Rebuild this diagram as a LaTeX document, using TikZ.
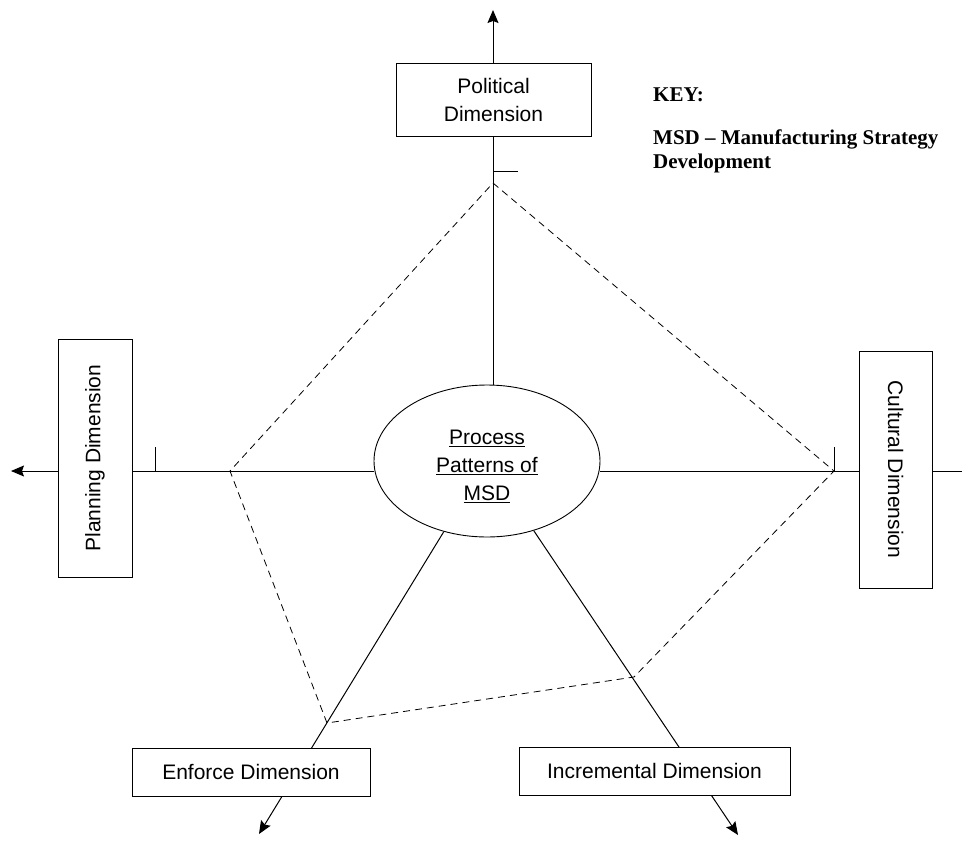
\documentclass[tikz,border=0pt]{standalone}
\usepackage{fontspec}
\setmainfont{Liberation Sans}
\newfontfamily\keyfont{Liberation Serif}
\usetikzlibrary{arrows.meta,shapes.geometric,backgrounds}

\begin{document}
\begin{tikzpicture}[x=1pt,y=-1pt,
  dimbox/.style={draw, fill=white, line width=0.8pt, inner sep=0pt,
    align=center, font=\fontsize{21}{28}\selectfont},
  axis/.style={line width=1pt},
  tip/.style={-{Stealth[length=13pt,width=11pt,inset=2pt]}},
  tick/.style={line width=0.8pt},
  frame/.style={dashed, dash pattern=on 7pt off 5pt, line width=0.8pt},
  keytext/.style={font=\keyfont\bfseries\fontsize{21}{24}\selectfont,
    anchor=west, align=left, inner sep=0pt}]

\useasboundingbox (0,0) rectangle (962,860);

% centre ellipse, its text set a little below the centre
\node[ellipse, draw, fill=white, line width=0.9pt, minimum width=226pt,
  minimum height=152pt, inner sep=0pt, font=\fontsize{21}{28}\selectfont]
  (ell) at (487,461)
  {\raisebox{-6pt}[\height][\depth]{\begin{tabular}{@{}c@{}}\underline{Process}\\
    \underline{Patterns of}\\\underline{MSD}\end{tabular}}};

% dimension boxes
\node[dimbox, minimum width=195pt, minimum height=73pt] (pol) at (493.5,99.5)
  {Political\\Dimension};
\node[dimbox, rotate=90, minimum width=238pt, minimum height=74pt] (plan) at (95,458)
  {Planning Dimension};
\node[dimbox, rotate=-90, minimum width=237pt, minimum height=73pt] (cult) at (895.5,469.5)
  {Cultural Dimension};
\node[dimbox, minimum width=238pt, minimum height=48pt] (enf) at (251,772)
  {Enforce Dimension};
\node[dimbox, minimum width=271pt, minimum height=48pt] (inc) at (654.5,771)
  {Incremental Dimension};

% key
\node[keytext] (keyhead) at (653,95) {KEY:};
\node[keytext] (keyitem) at (653,151) {MSD – Manufacturing Strategy\\Development};

% arrow ends and frame corners
\coordinate (tipT) at (493,10);
\coordinate (tipL) at (11,471);
\coordinate (endR) at (962,471);
\coordinate (tipE) at (259,834);
\coordinate (tipI) at (738,835);
\coordinate (dTop) at (493,183);
\coordinate (dRight) at (834,471);
\coordinate (dLR) at (634,677);
\coordinate (dLL) at (327,723);
\coordinate (dLeft) at (230,471);

\begin{scope}[on background layer]
  % axes, running under the boxes
  \draw[axis, tip] (ell.north -| tipT) -- (tipT);
  \draw[axis, tip] (ell.west |- tipL) -- (tipL);
  \draw[axis] (ell.east |- endR) -- (endR);
  \draw[axis, tip] (ell) -- (tipE);
  \draw[axis, tip] (ell) -- (tipI);
  % short ticks on the axes
  \draw[tick] (dTop |- 0,171) -- ++(25,0);
  \draw[tick] (155,471) -- ++(0,-24);
  \draw[tick] (dRight) -- ++(0,-24);
\end{scope}

% dashed frame joining the axes
\draw[frame] (dTop) -- (dRight) -- (dLR) -- (dLL) -- (dLeft) -- cycle;

\end{tikzpicture}
\end{document}
